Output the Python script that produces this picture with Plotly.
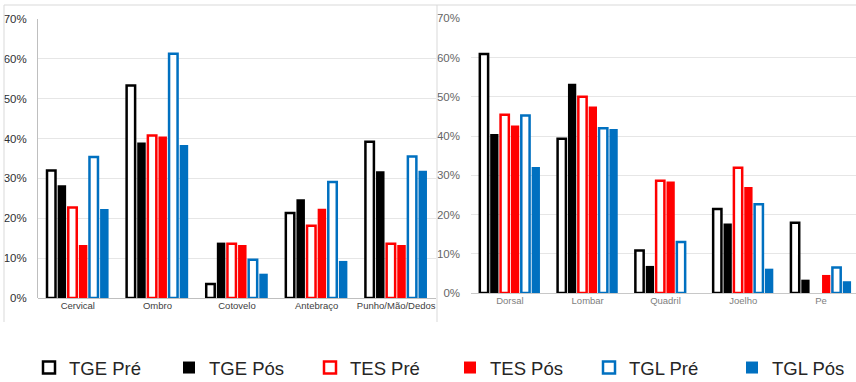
import plotly.graph_objects as go

# ---------------- data ----------------
series_names = ["TGE Pré", "TGE Pós", "TES Pré", "TES Pós", "TGL Pré", "TGL Pós"]
series_colors = ["#000000", "#000000", "#FF0000", "#FF0000", "#0070C0", "#0070C0"]
series_outline = [True, False, True, False, True, False]

left_categories = ["Cervical", "Ombro", "Cotovelo", "Antebraço", "Punho/Mão/Dedos"]
right_categories = ["Dorsal", "Lombar", "Quadril", "Joelho", "Pe"]

tge_pre_left = [32.0, 53.3, 3.5, 21.3, 39.2]
tge_pos_left = [28.3, 39.0, 13.9, 24.8, 31.8]
tes_pre_left = [22.7, 40.8, 13.6, 18.1, 13.6]
tes_pos_left = [13.3, 40.5, 13.3, 22.4, 13.3]
tgl_pre_left = [35.4, 61.3, 9.6, 29.1, 35.5]
tgl_pos_left = [22.3, 38.4, 6.1, 9.3, 31.9]

# None = no bar drawn (0%)
tge_pre_right = [60.9, 39.3, 10.8, 21.4, 17.9]
tge_pos_right = [40.5, 53.3, 6.9, 17.7, 3.4]
tes_pre_right = [45.4, 50.0, 28.6, 31.9, None]
tes_pos_right = [42.7, 47.5, 28.4, 27.0, 4.6]
tgl_pre_right = [45.2, 42.0, 13.0, 22.6, 6.5]
tgl_pos_right = [32.1, 41.8, None, 6.2, 3.0]

y_tick_values = [0, 10, 20, 30, 40, 50, 60, 70]
y_tick_labels = ["0%", "10%", "20%", "30%", "40%", "50%", "60%", "70%"]

left_values = [tge_pre_left, tge_pos_left, tes_pre_left, tes_pos_left, tgl_pre_left, tgl_pos_left]
right_values = [tge_pre_right, tge_pos_right, tes_pre_right, tes_pos_right, tgl_pre_right, tgl_pos_right]

# ---------------- figure ----------------
W, H = 856, 382
fig = go.Figure()


def px_x(p):
    return p / W


def px_y(p):
    return 1 - p / H


legend_ids = ["legend", "legend2", "legend3", "legend4", "legend5", "legend6"]
legend_marker_centers = [57, 197, 338, 478, 617, 760]

for i, name in enumerate(series_names):
    col = series_colors[i]
    outline = series_outline[i]
    marker = dict(
        color="#FFFFFF" if outline else col,
        line=dict(color=col, width=2.5 if outline else 0),
    )
    fig.add_trace(go.Bar(
        x=left_categories, y=left_values[i], name=name, marker=marker,
        xaxis="x", yaxis="y", legendgroup=name, showlegend=True,
        legend=legend_ids[i],
    ))
    fig.add_trace(go.Bar(
        x=right_categories, y=right_values[i], name=name, marker=marker,
        xaxis="x2", yaxis="y2", legendgroup=name, showlegend=False,
    ))

font_family = "Liberation Sans, Arial, sans-serif"

layout_kwargs = dict(
    width=W, height=H,
    margin=dict(l=0, r=0, t=0, b=0, autoexpand=False),
    paper_bgcolor="white", plot_bgcolor="white",
    barmode="group", bargap=0.2, bargroupgap=0.2,
    font=dict(family=font_family, color="#404040"),
    xaxis=dict(
        domain=[px_x(38), px_x(436)], anchor="y",
        showgrid=False, showline=False, ticks="", zeroline=False,
        tickfont=dict(size=9.5, color="#404040"),
    ),
    yaxis=dict(
        domain=[px_y(298), px_y(19)], anchor="x",
        range=[0, 70], tickvals=y_tick_values, ticktext=y_tick_labels,
        showgrid=True, gridcolor="#E6E6E6", gridwidth=1,
        showline=True, linecolor="#BFBFBF", linewidth=1,
        zeroline=True, zerolinecolor="#BFBFBF", zerolinewidth=1,
        ticks="", ticklabelstandoff=8,
        tickfont=dict(size=11.5, color="#303030"),
    ),
    xaxis2=dict(
        domain=[px_x(471), 1.0], anchor="y2",
        range=[-0.5, 4.45],
        showgrid=False, showline=False, ticks="", zeroline=False,
        tickfont=dict(size=9.5, color="#808080"),
    ),
    yaxis2=dict(
        domain=[px_y(293), px_y(18.3)], anchor="x2",
        range=[0, 70], tickvals=y_tick_values, ticktext=y_tick_labels,
        showgrid=True, gridcolor="#E6E6E6", gridwidth=1,
        showline=False,
        zeroline=True, zerolinecolor="#C8C8C8", zerolinewidth=1,
        ticks="", ticklabelstandoff=10,
        tickfont=dict(size=11.5, color="#666666"),
    ),
    showlegend=True,
)

for lid, cx in zip(legend_ids, legend_marker_centers):
    layout_kwargs[lid] = dict(
        orientation="h",
        x=px_x(cx - 28), xanchor="left",
        y=px_y(368), yanchor="middle",
        font=dict(size=18.5, color="#262626", family=font_family),
        itemclick=False, itemdoubleclick=False,
        bgcolor="rgba(0,0,0,0)",
        tracegroupgap=0,
    )

fig.update_layout(**layout_kwargs)

# panel frame lines (decoration)
frame_color = "#D9D9D9"
fig.add_shape(type="line", xref="paper", yref="paper",
              x0=px_x(4), x1=1.0, y0=px_y(5), y1=px_y(5),
              line=dict(color=frame_color, width=1))
fig.add_shape(type="line", xref="paper", yref="paper",
              x0=px_x(4), x1=px_x(4), y0=px_y(5), y1=px_y(322),
              line=dict(color=frame_color, width=1))
fig.add_shape(type="line", xref="paper", yref="paper",
              x0=px_x(437), x1=px_x(437), y0=px_y(5), y1=px_y(322),
              line=dict(color=frame_color, width=1))

# remove the default page margin so the figure fills the window exactly
fig.write_html(
    "out.html",
    config={"displayModeBar": False},
    post_script="document.body.style.margin='0px';document.body.style.overflow='hidden';",
)
